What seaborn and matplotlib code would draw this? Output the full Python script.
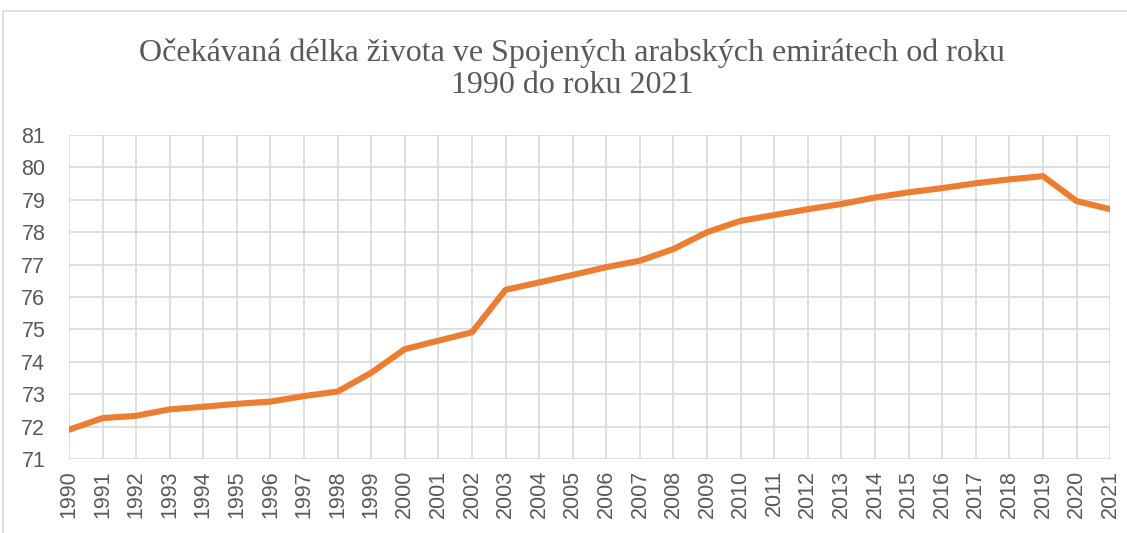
import matplotlib
matplotlib.use("Agg")
import pandas as pd
import seaborn as sns
from matplotlib import pyplot as plt
from matplotlib.patches import Rectangle

years = list(range(1990, 2022))
life_expectancy = [71.90, 72.26, 72.33, 72.53, 72.61, 72.70, 72.77, 72.94,
                   73.08, 73.66, 74.39, 74.65, 74.91, 76.22, 76.45, 76.68,
                   76.92, 77.12, 77.48, 78.00, 78.35, 78.53, 78.71, 78.87,
                   79.07, 79.23, 79.36, 79.51, 79.63, 79.73, 78.96, 78.71]
title = "Očekávaná délka života ve Spojených arabských emirátech od roku\n1990 do roku 2021"

df = pd.DataFrame({"year": years, "value": life_expectancy})

sns.set_style("white")
plt.rcParams['font.family'] = ['Liberation Sans', 'DejaVu Sans']

fig = plt.figure(figsize=(11.27, 5.33), dpi=100)
ax = fig.add_axes([0.0612, 0.139, 0.9238, 0.6077])

grid_c = "#D9D9D9"
text_c = "#595959"

sns.lineplot(data=df, x="year", y="value", ax=ax, color="#ED7D31",
             linewidth=4.4, zorder=3)

ax.set_xlim(1990, 2021)
ax.set_ylim(71, 81)
ax.set_xticks(years)
ax.set_xticklabels([str(y) for y in years], rotation=90)
ax.set_yticks(range(71, 82))
ax.set_xlabel("")
ax.set_ylabel("")
ax.grid(True, color=grid_c, linewidth=1.2, zorder=0)
for s in ax.spines.values():
    s.set_visible(False)
ax.tick_params(axis="both", length=0, labelsize=15.5, colors=text_c)
ax.tick_params(axis="y", pad=17)
ax.tick_params(axis="x", pad=8)

fig.text(0.5075, 0.87, title, ha="center", va="center", fontsize=23,
         color=text_c, family=["Liberation Serif", "DejaVu Serif"],
         linespacing=1.15)

# chart area border
fig.patches.append(Rectangle((3 / 1127, -0.05), 1.1, 1 - 11 / 533 + 0.05,
                             transform=fig.transFigure, fill=False,
                             edgecolor=grid_c, linewidth=1.2))

plt.savefig("out.png", dpi=100)
